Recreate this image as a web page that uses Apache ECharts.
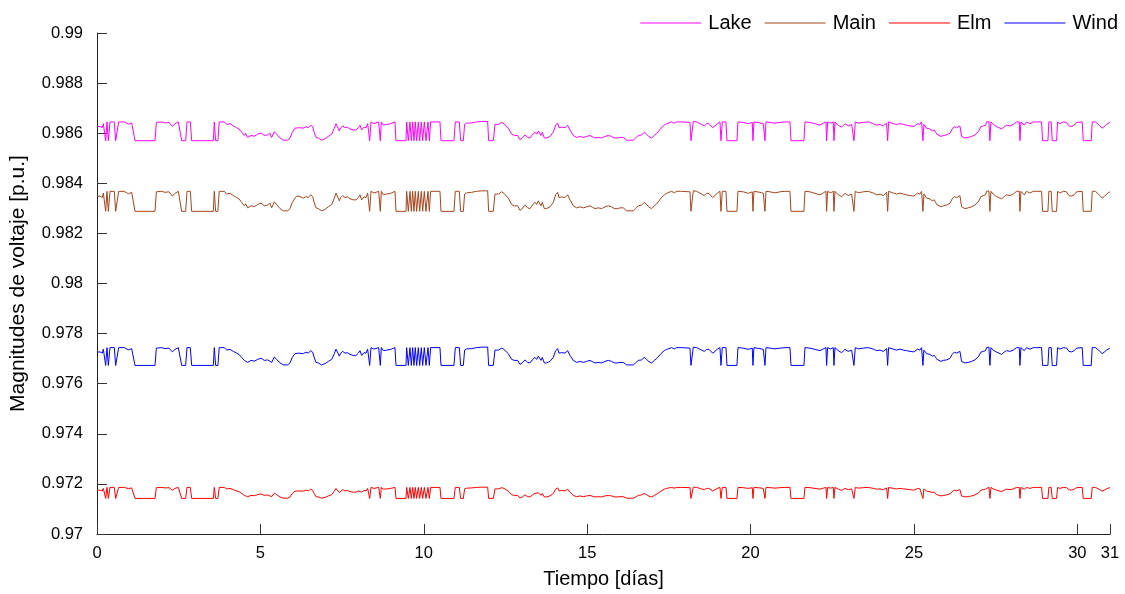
<!DOCTYPE html>
<html>
<head>
<meta charset="utf-8">
<script src="https://cdn.jsdelivr.net/npm/echarts@6/dist/echarts.min.js"></script>
<style>
html,body{margin:0;padding:0;background:#fff;}
#chart{width:1125px;height:594px;}
</style>
</head>
<body>
<div id="chart"></div>
<script>
// Time in days
const days = [
0,0.092,0.163,0.194,0.225,0.265,0.306,0.347,0.398,0.53,
0.571,0.622,0.663,0.837,0.857,0.959,1.061,1.122,1.163,1.775,
1.816,1.877,1.979,2.081,2.203,2.305,2.387,2.489,2.55,2.591,
2.713,2.754,2.856,2.897,3.56,3.59,3.63,3.7,3.74,3.795,
3.897,3.968,4.07,4.172,4.274,4.345,4.427,4.509,4.55,4.611,
4.713,4.815,4.917,5.019,5.121,5.223,5.284,5.345,5.427,5.498,
5.6,5.702,5.835,5.906,5.977,6.059,6.12,6.18,6.212,6.314,
6.396,6.467,6.538,6.6,6.64,6.702,6.773,6.875,6.977,7.079,
7.181,7.263,7.314,7.354,7.416,7.456,7.518,7.589,7.66,7.742,
7.844,7.926,7.997,8.048,8.099,8.17,8.232,8.283,8.324,8.344,
8.385,8.476,8.619,8.65,8.67,8.7,8.762,8.864,8.986,9.119,
9.15,9.456,9.476,9.527,9.578,9.619,9.66,9.7,9.741,9.782,
9.833,9.874,9.925,9.966,10.017,10.068,10.129,10.17,10.21,10.496,
10.527,10.924,10.965,11.088,11.128,11.21,11.25,11.312,11.465,11.618,
11.771,11.955,11.985,12.128,12.179,12.281,12.383,12.454,12.485,12.587,
12.689,12.77,12.873,12.944,13.015,13.097,13.179,13.25,13.321,13.403,
13.454,13.505,13.587,13.627,13.689,13.76,13.862,13.964,14.035,14.097,
14.137,14.219,14.321,14.403,14.474,14.576,14.678,14.78,14.882,14.984,
15.086,15.157,15.239,15.341,15.443,15.545,15.647,15.749,15.831,15.933,
16.004,16.106,16.208,16.412,16.483,16.565,16.667,16.749,16.82,16.891,
16.973,17.055,17.126,17.177,17.259,17.361,17.432,17.503,17.585,17.667,
17.738,17.891,18.146,18.177,18.218,18.248,18.35,18.503,18.585,18.656,
18.727,18.758,18.84,18.911,18.982,19.064,19.095,19.135,19.248,19.278,
19.584,19.615,19.778,19.931,20.053,20.074,20.104,20.288,20.39,20.441,
20.472,20.594,20.747,20.9,21.053,21.206,21.237,21.634,21.665,21.818,
21.971,22.124,22.226,22.308,22.328,22.358,22.45,22.532,22.552,22.583,
22.685,22.787,22.889,22.991,23.093,23.164,23.205,23.297,23.45,23.603,
23.756,23.858,23.96,24.062,24.164,24.195,24.225,24.368,24.47,24.572,
24.674,24.776,24.878,25.0,25.03,25.112,25.183,25.234,25.275,25.305,
25.387,25.438,25.489,25.56,25.622,25.662,25.703,25.744,25.826,25.897,
25.999,26.101,26.172,26.234,26.305,26.356,26.407,26.458,26.509,26.56,
26.662,26.764,26.866,26.968,27.05,27.121,27.192,27.223,27.294,27.325,
27.356,27.427,27.529,27.6,27.682,27.764,27.835,27.937,28.039,28.09,
28.141,28.223,28.243,28.274,28.376,28.447,28.549,28.651,28.702,28.753,
28.906,28.937,29.1,29.13,29.2,29.232,29.365,29.396,29.467,29.569,
29.671,29.742,29.824,29.906,29.977,30.028,30.15,30.18,30.425,30.456,
30.558,30.619,30.69,30.761,30.823,30.894,30.965,31
];

const lake = [
0.98626,0.98627,0.98622,0.98638,0.98645,0.98570,0.98645,0.98570,0.98645,0.98645,
0.98570,0.98570,0.98645,0.98645,0.98649,0.98636,0.98641,0.98645,0.98570,0.98570,
0.98643,0.98638,0.98645,0.98641,0.98643,0.98627,0.98638,0.98645,0.98645,0.98570,
0.98570,0.98645,0.98645,0.98570,0.98570,0.98645,0.98570,0.98570,0.98645,0.98643,
0.98645,0.98635,0.98638,0.98629,0.98622,0.98617,0.98604,0.98591,0.98599,0.98583,
0.98591,0.98588,0.98596,0.98601,0.98591,0.98593,0.98601,0.98583,0.98606,0.98596,
0.98581,0.98572,0.98572,0.98581,0.98604,0.98620,0.98627,0.98622,0.98626,0.98620,
0.98626,0.98622,0.98632,0.98626,0.98606,0.98583,0.98581,0.98572,0.98578,0.98587,
0.98596,0.98620,0.98638,0.98645,0.98609,0.98622,0.98629,0.98622,0.98624,0.98617,
0.98613,0.98613,0.98622,0.98632,0.98613,0.98624,0.98622,0.98638,0.98645,0.98570,
0.98645,0.98638,0.98645,0.98645,0.98570,0.98645,0.98632,0.98635,0.98638,0.98645,
0.98570,0.98570,0.98645,0.98570,0.98645,0.98570,0.98645,0.98570,0.98645,0.98570,
0.98645,0.98570,0.98645,0.98570,0.98645,0.98570,0.98645,0.98570,0.98645,0.98645,
0.98570,0.98570,0.98645,0.98645,0.98570,0.98570,0.98635,0.98640,0.98641,0.98645,
0.98647,0.98647,0.98570,0.98570,0.98635,0.98635,0.98643,0.98638,0.98638,0.98620,
0.98596,0.98591,0.98591,0.98574,0.98581,0.98593,0.98583,0.98581,0.98593,0.98604,
0.98596,0.98609,0.98591,0.98604,0.98581,0.98581,0.98587,0.98604,0.98632,0.98641,
0.98622,0.98624,0.98622,0.98632,0.98613,0.98591,0.98583,0.98587,0.98583,0.98587,
0.98591,0.98586,0.98581,0.98583,0.98581,0.98587,0.98591,0.98587,0.98581,0.98581,
0.98583,0.98583,0.98572,0.98572,0.98581,0.98591,0.98593,0.98604,0.98596,0.98586,
0.98581,0.98591,0.98599,0.98606,0.98620,0.98632,0.98638,0.98641,0.98645,0.98640,
0.98645,0.98645,0.98643,0.98570,0.98570,0.98647,0.98645,0.98635,0.98629,0.98638,
0.98638,0.98632,0.98622,0.98629,0.98638,0.98645,0.98570,0.98645,0.98645,0.98570,
0.98570,0.98645,0.98643,0.98638,0.98643,0.98570,0.98645,0.98641,0.98638,0.98570,
0.98645,0.98643,0.98640,0.98643,0.98645,0.98645,0.98570,0.98570,0.98645,0.98643,
0.98638,0.98632,0.98640,0.98645,0.98570,0.98645,0.98640,0.98645,0.98570,0.98645,
0.98632,0.98624,0.98638,0.98629,0.98635,0.98570,0.98645,0.98640,0.98643,0.98645,
0.98638,0.98632,0.98635,0.98629,0.98641,0.98570,0.98645,0.98638,0.98635,0.98638,
0.98635,0.98632,0.98629,0.98627,0.98632,0.98638,0.98635,0.98645,0.98570,0.98635,
0.98620,0.98613,0.98617,0.98609,0.98613,0.98604,0.98596,0.98591,0.98587,0.98591,
0.98593,0.98600,0.98617,0.98626,0.98622,0.98626,0.98629,0.98587,0.98581,0.98581,
0.98583,0.98587,0.98593,0.98606,0.98626,0.98629,0.98632,0.98645,0.98647,0.98570,
0.98645,0.98635,0.98626,0.98622,0.98617,0.98626,0.98632,0.98629,0.98635,0.98638,
0.98645,0.98645,0.98570,0.98645,0.98632,0.98645,0.98638,0.98645,0.98638,0.98645,
0.98645,0.98570,0.98570,0.98645,0.98645,0.98570,0.98570,0.98645,0.98638,0.98645,
0.98643,0.98629,0.98627,0.98632,0.98643,0.98645,0.98645,0.98570,0.98570,0.98645,
0.98645,0.98638,0.98629,0.98620,0.98626,0.98635,0.98641,0.98643
];

const main = [
0.98347,0.98349,0.98343,0.98361,0.98368,0.98288,0.98368,0.98288,0.98368,0.98368,
0.98288,0.98288,0.98368,0.98368,0.98372,0.98358,0.98364,0.98368,0.98288,0.98288,
0.98366,0.98361,0.98368,0.98364,0.98366,0.98349,0.98360,0.98368,0.98368,0.98288,
0.98288,0.98368,0.98368,0.98288,0.98288,0.98368,0.98288,0.98288,0.98368,0.98366,
0.98368,0.98357,0.98360,0.98351,0.98343,0.98338,0.98324,0.98310,0.98318,0.98302,
0.98310,0.98307,0.98315,0.98321,0.98310,0.98313,0.98321,0.98302,0.98326,0.98315,
0.98299,0.98290,0.98290,0.98299,0.98324,0.98341,0.98349,0.98343,0.98347,0.98341,
0.98347,0.98343,0.98354,0.98347,0.98326,0.98302,0.98299,0.98290,0.98296,0.98306,
0.98315,0.98341,0.98361,0.98368,0.98330,0.98343,0.98351,0.98343,0.98346,0.98338,
0.98334,0.98334,0.98343,0.98354,0.98334,0.98346,0.98343,0.98361,0.98368,0.98288,
0.98368,0.98361,0.98368,0.98368,0.98288,0.98368,0.98354,0.98357,0.98360,0.98368,
0.98288,0.98288,0.98368,0.98288,0.98368,0.98288,0.98368,0.98288,0.98368,0.98288,
0.98368,0.98288,0.98368,0.98288,0.98368,0.98288,0.98368,0.98288,0.98368,0.98368,
0.98288,0.98288,0.98368,0.98368,0.98288,0.98288,0.98357,0.98362,0.98364,0.98368,
0.98370,0.98370,0.98288,0.98288,0.98357,0.98357,0.98366,0.98360,0.98361,0.98341,
0.98315,0.98310,0.98310,0.98292,0.98299,0.98313,0.98302,0.98299,0.98313,0.98324,
0.98315,0.98330,0.98310,0.98324,0.98299,0.98299,0.98306,0.98324,0.98354,0.98364,
0.98343,0.98346,0.98343,0.98354,0.98334,0.98310,0.98302,0.98306,0.98302,0.98306,
0.98310,0.98305,0.98299,0.98302,0.98299,0.98306,0.98310,0.98306,0.98299,0.98299,
0.98302,0.98302,0.98290,0.98290,0.98299,0.98310,0.98313,0.98324,0.98315,0.98305,
0.98299,0.98310,0.98318,0.98326,0.98341,0.98354,0.98360,0.98364,0.98368,0.98362,
0.98368,0.98368,0.98366,0.98288,0.98288,0.98370,0.98368,0.98357,0.98351,0.98360,
0.98360,0.98354,0.98343,0.98351,0.98361,0.98368,0.98288,0.98368,0.98368,0.98288,
0.98288,0.98368,0.98366,0.98360,0.98366,0.98288,0.98368,0.98364,0.98360,0.98288,
0.98368,0.98366,0.98362,0.98366,0.98368,0.98368,0.98288,0.98288,0.98368,0.98366,
0.98360,0.98354,0.98362,0.98368,0.98288,0.98368,0.98362,0.98368,0.98288,0.98368,
0.98354,0.98346,0.98360,0.98351,0.98357,0.98288,0.98368,0.98362,0.98366,0.98368,
0.98361,0.98354,0.98357,0.98351,0.98364,0.98288,0.98368,0.98361,0.98357,0.98361,
0.98357,0.98354,0.98351,0.98349,0.98354,0.98361,0.98357,0.98368,0.98288,0.98357,
0.98341,0.98334,0.98338,0.98330,0.98334,0.98324,0.98315,0.98310,0.98306,0.98310,
0.98313,0.98320,0.98338,0.98347,0.98343,0.98347,0.98351,0.98306,0.98299,0.98299,
0.98302,0.98306,0.98313,0.98326,0.98347,0.98351,0.98354,0.98368,0.98370,0.98288,
0.98368,0.98357,0.98347,0.98343,0.98338,0.98347,0.98354,0.98351,0.98357,0.98360,
0.98368,0.98368,0.98288,0.98368,0.98354,0.98368,0.98361,0.98368,0.98361,0.98368,
0.98368,0.98288,0.98288,0.98368,0.98368,0.98288,0.98288,0.98368,0.98361,0.98368,
0.98366,0.98351,0.98349,0.98354,0.98366,0.98368,0.98368,0.98288,0.98288,0.98368,
0.98368,0.98361,0.98351,0.98341,0.98347,0.98357,0.98364,0.98366
];

const elm = [
0.97175,0.97175,0.97172,0.97182,0.97186,0.97142,0.97186,0.97142,0.97186,0.97186,
0.97142,0.97142,0.97186,0.97186,0.97188,0.97181,0.97184,0.97186,0.97142,0.97142,
0.97185,0.97182,0.97186,0.97184,0.97185,0.97175,0.97182,0.97186,0.97186,0.97142,
0.97142,0.97186,0.97186,0.97142,0.97142,0.97186,0.97142,0.97142,0.97186,0.97185,
0.97186,0.97180,0.97182,0.97177,0.97172,0.97169,0.97162,0.97154,0.97159,0.97149,
0.97154,0.97153,0.97157,0.97160,0.97154,0.97156,0.97160,0.97149,0.97163,0.97157,
0.97148,0.97143,0.97143,0.97148,0.97162,0.97171,0.97175,0.97172,0.97175,0.97171,
0.97175,0.97172,0.97179,0.97175,0.97163,0.97149,0.97148,0.97143,0.97146,0.97152,
0.97157,0.97171,0.97182,0.97186,0.97165,0.97172,0.97177,0.97172,0.97174,0.97169,
0.97167,0.97167,0.97172,0.97179,0.97167,0.97174,0.97172,0.97182,0.97186,0.97142,
0.97186,0.97182,0.97186,0.97186,0.97142,0.97186,0.97179,0.97180,0.97182,0.97186,
0.97142,0.97142,0.97186,0.97142,0.97186,0.97142,0.97186,0.97142,0.97186,0.97142,
0.97186,0.97142,0.97186,0.97142,0.97186,0.97142,0.97186,0.97142,0.97186,0.97186,
0.97142,0.97142,0.97186,0.97186,0.97142,0.97142,0.97180,0.97183,0.97184,0.97186,
0.97187,0.97187,0.97142,0.97142,0.97180,0.97180,0.97185,0.97182,0.97182,0.97171,
0.97157,0.97154,0.97154,0.97144,0.97148,0.97156,0.97149,0.97148,0.97156,0.97162,
0.97157,0.97165,0.97154,0.97162,0.97148,0.97148,0.97152,0.97162,0.97179,0.97184,
0.97172,0.97174,0.97172,0.97179,0.97167,0.97154,0.97149,0.97152,0.97149,0.97152,
0.97154,0.97151,0.97148,0.97149,0.97148,0.97152,0.97154,0.97152,0.97148,0.97148,
0.97149,0.97149,0.97143,0.97143,0.97148,0.97154,0.97156,0.97162,0.97157,0.97151,
0.97148,0.97154,0.97159,0.97163,0.97171,0.97179,0.97182,0.97184,0.97186,0.97183,
0.97186,0.97186,0.97185,0.97142,0.97142,0.97187,0.97186,0.97180,0.97177,0.97182,
0.97182,0.97179,0.97172,0.97177,0.97182,0.97186,0.97142,0.97186,0.97186,0.97142,
0.97142,0.97186,0.97185,0.97182,0.97185,0.97142,0.97186,0.97184,0.97182,0.97142,
0.97186,0.97185,0.97183,0.97185,0.97186,0.97186,0.97142,0.97142,0.97186,0.97185,
0.97182,0.97179,0.97183,0.97186,0.97142,0.97186,0.97183,0.97186,0.97142,0.97186,
0.97179,0.97174,0.97182,0.97177,0.97180,0.97142,0.97186,0.97183,0.97185,0.97186,
0.97182,0.97179,0.97180,0.97177,0.97184,0.97142,0.97186,0.97182,0.97180,0.97182,
0.97180,0.97179,0.97177,0.97175,0.97179,0.97182,0.97180,0.97186,0.97142,0.97180,
0.97171,0.97167,0.97169,0.97165,0.97167,0.97162,0.97157,0.97154,0.97152,0.97154,
0.97156,0.97160,0.97169,0.97175,0.97172,0.97175,0.97177,0.97152,0.97148,0.97148,
0.97149,0.97152,0.97156,0.97163,0.97175,0.97177,0.97179,0.97186,0.97187,0.97142,
0.97186,0.97180,0.97175,0.97172,0.97169,0.97175,0.97179,0.97177,0.97180,0.97182,
0.97186,0.97186,0.97142,0.97186,0.97179,0.97186,0.97182,0.97186,0.97182,0.97186,
0.97186,0.97142,0.97142,0.97186,0.97186,0.97142,0.97142,0.97186,0.97182,0.97186,
0.97185,0.97177,0.97175,0.97179,0.97185,0.97186,0.97186,0.97142,0.97142,0.97186,
0.97186,0.97182,0.97177,0.97171,0.97175,0.97180,0.97184,0.97185
];

const wind = [
0.97726,0.97727,0.97722,0.97738,0.97744,0.97673,0.97744,0.97673,0.97744,0.97744,
0.97673,0.97673,0.97744,0.97744,0.97748,0.97735,0.97740,0.97744,0.97673,0.97673,
0.97742,0.97738,0.97744,0.97740,0.97742,0.97727,0.97737,0.97744,0.97744,0.97673,
0.97673,0.97744,0.97744,0.97673,0.97673,0.97744,0.97673,0.97673,0.97744,0.97742,
0.97744,0.97734,0.97737,0.97729,0.97722,0.97717,0.97705,0.97693,0.97700,0.97685,
0.97693,0.97690,0.97697,0.97702,0.97693,0.97695,0.97702,0.97685,0.97707,0.97697,
0.97683,0.97675,0.97675,0.97683,0.97705,0.97720,0.97727,0.97722,0.97726,0.97720,
0.97726,0.97722,0.97732,0.97726,0.97707,0.97685,0.97683,0.97675,0.97680,0.97689,
0.97697,0.97720,0.97738,0.97744,0.97710,0.97722,0.97729,0.97722,0.97724,0.97717,
0.97713,0.97713,0.97722,0.97732,0.97713,0.97724,0.97722,0.97738,0.97744,0.97673,
0.97744,0.97738,0.97744,0.97744,0.97673,0.97744,0.97732,0.97734,0.97737,0.97744,
0.97673,0.97673,0.97744,0.97673,0.97744,0.97673,0.97744,0.97673,0.97744,0.97673,
0.97744,0.97673,0.97744,0.97673,0.97744,0.97673,0.97744,0.97673,0.97744,0.97744,
0.97673,0.97673,0.97744,0.97744,0.97673,0.97673,0.97734,0.97739,0.97740,0.97744,
0.97746,0.97746,0.97673,0.97673,0.97734,0.97734,0.97742,0.97737,0.97738,0.97720,
0.97697,0.97693,0.97693,0.97677,0.97683,0.97695,0.97685,0.97683,0.97695,0.97705,
0.97697,0.97710,0.97693,0.97705,0.97683,0.97683,0.97689,0.97705,0.97732,0.97740,
0.97722,0.97724,0.97722,0.97732,0.97713,0.97693,0.97685,0.97689,0.97685,0.97689,
0.97693,0.97688,0.97683,0.97685,0.97683,0.97689,0.97693,0.97689,0.97683,0.97683,
0.97685,0.97685,0.97675,0.97675,0.97683,0.97693,0.97695,0.97705,0.97697,0.97688,
0.97683,0.97693,0.97700,0.97707,0.97720,0.97732,0.97737,0.97740,0.97744,0.97739,
0.97744,0.97744,0.97742,0.97673,0.97673,0.97746,0.97744,0.97734,0.97729,0.97737,
0.97737,0.97732,0.97722,0.97729,0.97738,0.97744,0.97673,0.97744,0.97744,0.97673,
0.97673,0.97744,0.97742,0.97737,0.97742,0.97673,0.97744,0.97740,0.97737,0.97673,
0.97744,0.97742,0.97739,0.97742,0.97744,0.97744,0.97673,0.97673,0.97744,0.97742,
0.97737,0.97732,0.97739,0.97744,0.97673,0.97744,0.97739,0.97744,0.97673,0.97744,
0.97732,0.97724,0.97737,0.97729,0.97734,0.97673,0.97744,0.97739,0.97742,0.97744,
0.97738,0.97732,0.97734,0.97729,0.97740,0.97673,0.97744,0.97738,0.97734,0.97738,
0.97734,0.97732,0.97729,0.97727,0.97732,0.97738,0.97734,0.97744,0.97673,0.97734,
0.97720,0.97713,0.97717,0.97710,0.97713,0.97705,0.97697,0.97693,0.97689,0.97693,
0.97695,0.97701,0.97717,0.97726,0.97722,0.97726,0.97729,0.97689,0.97683,0.97683,
0.97685,0.97689,0.97695,0.97707,0.97726,0.97729,0.97732,0.97744,0.97746,0.97673,
0.97744,0.97734,0.97726,0.97722,0.97717,0.97726,0.97732,0.97729,0.97734,0.97737,
0.97744,0.97744,0.97673,0.97744,0.97732,0.97744,0.97738,0.97744,0.97738,0.97744,
0.97744,0.97673,0.97673,0.97744,0.97744,0.97673,0.97673,0.97744,0.97738,0.97744,
0.97742,0.97729,0.97727,0.97732,0.97742,0.97744,0.97744,0.97673,0.97673,0.97744,
0.97744,0.97738,0.97729,0.97720,0.97726,0.97734,0.97740,0.97742
];

const seriesNames = ['Lake', 'Main', 'Elm', 'Wind'];
const xTickValues = [0, 5, 10, 15, 20, 25, 30, 31];
const yMin = 0.97, yMax = 0.99, yStep = 0.002;

const FONT = '"Liberation Sans", Arial, Helvetica, sans-serif';
const colors = { Lake: '#ff00ff', Main: '#a4461e', Elm: '#ff0000', Wind: '#0000ff' };
const valuesByName = { Lake: lake, Main: main, Elm: elm, Wind: wind };

function pairs(vals) { return days.map((d, i) => [d, vals[i]]); }

const chart = echarts.init(document.getElementById('chart'), null, { renderer: 'canvas' });
chart.setOption({
  animation: false,
  backgroundColor: '#ffffff',
  textStyle: { fontFamily: FONT },
  grid: { left: 97, right: 15, top: 33, bottom: 59, containLabel: false },
  legend: {
    data: seriesNames,
    right: 2, top: 8,
    icon: 'rect',
    itemWidth: 61, itemHeight: 1,
    itemGap: 13,
    textStyle: { fontFamily: FONT, fontSize: 20, color: '#000', padding: [8, 0, 0, 2] }
  },
  xAxis: {
    type: 'value',
    min: 0, max: 31,
    name: 'Tiempo [días]',
    nameLocation: 'middle',
    nameGap: 35,
    nameTextStyle: { fontFamily: FONT, fontSize: 20, color: '#000' },
    axisLine: { show: true, onZero: false, lineStyle: { color: '#222', width: 1 } },
    axisTick: { show: true, inside: true, length: 10, customValues: xTickValues, lineStyle: { color: '#333' } },
    axisLabel: { customValues: xTickValues, fontFamily: FONT, fontSize: 16.5, color: '#000', margin: 11, showMinLabel: true, showMaxLabel: true },
    splitLine: { show: false }
  },
  yAxis: {
    type: 'value',
    min: yMin, max: yMax, interval: yStep,
    name: 'Magnitudes de voltaje [p.u.]',
    nameLocation: 'middle',
    nameGap: 68,
    nameTextStyle: { fontFamily: FONT, fontSize: 21, color: '#000' },
    axisLine: { show: true, onZero: false, lineStyle: { color: '#222', width: 1 } },
    axisTick: { show: true, inside: true, length: 10, lineStyle: { color: '#333' } },
    axisLabel: {
      fontFamily: FONT, fontSize: 16.5, color: '#000', margin: 14,
      formatter: v => v.toFixed(3).replace(/0+$/, '')
    },
    splitLine: { show: false }
  },
  series: seriesNames.map(n => ({
    name: n,
    type: 'line',
    data: pairs(valuesByName[n]),
    showSymbol: false,
    symbol: 'none',
    lineStyle: { color: colors[n], width: 1 },
    itemStyle: { color: colors[n] }
  }))
});
</script>
</body>
</html>
